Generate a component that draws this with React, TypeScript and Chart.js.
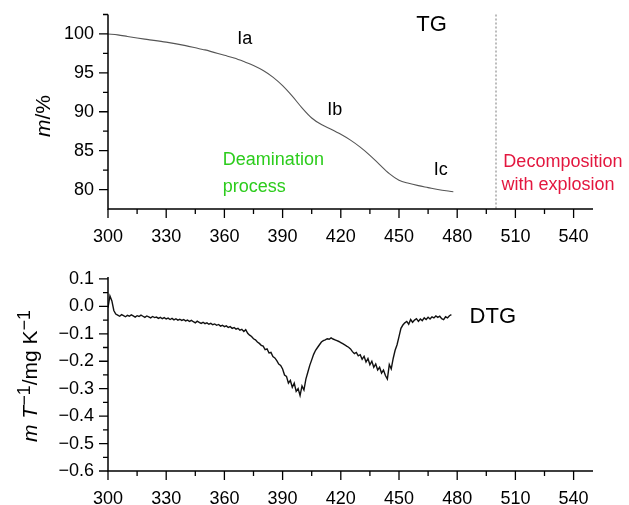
import React, { useEffect, useRef } from "react";
import { Chart, registerables } from "chart.js";

Chart.register(...registerables);

// ---------- data ----------
const tgTemperature = [300, 305, 310, 315, 320, 330, 340, 347, 350, 360, 365, 370, 375, 380, 385, 390, 395, 400, 405, 410, 415, 420, 425, 430, 435, 440, 445, 450, 455, 460, 465, 470, 478];
const tgMass = [100, 99.88, 99.68, 99.48, 99.3, 98.95, 98.5, 98.1, 97.95, 97.25, 96.9, 96.45, 95.95, 95.3, 94.45, 93.35, 92.0, 90.5, 89.2, 88.35, 87.75, 87.1, 86.35, 85.45, 84.4, 83.2, 82.05, 81.2, 80.8, 80.5, 80.25, 80.0, 79.72];

const dtgTemperature = [
  300, 301, 302, 303, 304, 305, 306, 307, 308, 309,
  310, 311, 312, 313, 314, 315, 316, 317, 318, 319,
  320, 321, 322, 323, 324, 325, 326, 327, 328, 329,
  330, 331, 332, 333, 334, 335, 336, 337, 338, 339,
  340, 341, 342, 343, 344, 345, 346, 347, 348, 349,
  350, 351, 352, 353, 354, 355, 356, 357, 358, 359,
  360, 361, 362, 363, 364, 365, 366, 367, 368, 369,
  370, 371, 372, 373, 374, 375, 376, 377, 378, 379,
  380, 381, 382, 383, 384, 385, 386, 387, 388, 389,
  390, 391, 392, 393, 394, 395, 396, 397, 398, 399,
  400, 401, 402, 403, 404, 405, 406, 407, 408, 409,
  410, 411, 412, 413, 414, 415, 416, 417, 418, 419,
  420, 421, 422, 423, 424, 425, 426, 427, 428, 429,
  430, 431, 432, 433, 434, 435, 436, 437, 438, 439,
  440, 441, 442, 443, 444, 445, 446, 447, 448, 449,
  450, 451, 452, 453, 454, 455, 456, 457, 458, 459,
  460, 461, 462, 463, 464, 465, 466, 467, 468, 469,
  470, 471, 472, 473, 474, 475, 476, 477,
];
const dtgValues = [
  -0.005, 0.038, 0.02, -0.015, -0.028, -0.032, -0.036, -0.03, -0.034, -0.038,
  -0.033, -0.036, -0.031, -0.035, -0.039, -0.034, -0.037, -0.032, -0.036, -0.04,
  -0.035, -0.038, -0.042, -0.037, -0.041, -0.039, -0.044, -0.04, -0.045, -0.041,
  -0.046, -0.043, -0.048, -0.044, -0.049, -0.045, -0.05, -0.047, -0.051, -0.048,
  -0.053, -0.05, -0.055, -0.051, -0.056, -0.06, -0.054, -0.058, -0.062, -0.058,
  -0.063, -0.06, -0.065, -0.062, -0.067, -0.064, -0.069, -0.066, -0.072, -0.069,
  -0.074, -0.071, -0.077, -0.074, -0.08, -0.077, -0.083, -0.08, -0.087, -0.084,
  -0.092, -0.085, -0.098, -0.105, -0.11, -0.118, -0.122, -0.13, -0.135, -0.142,
  -0.145, -0.158, -0.155, -0.17, -0.168, -0.183, -0.188, -0.198, -0.21, -0.215,
  -0.228, -0.25, -0.255, -0.28, -0.27, -0.295, -0.28, -0.31, -0.3, -0.325,
  -0.29, -0.305, -0.265, -0.24, -0.215, -0.195, -0.175, -0.16, -0.15, -0.14,
  -0.13, -0.125, -0.122, -0.118, -0.12, -0.115, -0.119, -0.122, -0.125, -0.128,
  -0.132, -0.136, -0.14, -0.145, -0.149, -0.155, -0.165, -0.172, -0.168, -0.18,
  -0.176, -0.193, -0.182, -0.203, -0.19, -0.213, -0.2, -0.222, -0.21, -0.232,
  -0.222, -0.243, -0.232, -0.252, -0.265, -0.212, -0.228, -0.19, -0.16, -0.14,
  -0.11, -0.08, -0.068, -0.06, -0.055, -0.065, -0.048, -0.058, -0.05, -0.045,
  -0.055, -0.046, -0.052, -0.042, -0.048, -0.04, -0.046, -0.038, -0.042, -0.035,
  -0.04, -0.036, -0.045, -0.048, -0.038, -0.042, -0.034, -0.03,
];

const xTickLabels = [300, 330, 360, 390, 420, 450, 480, 510, 540];
const xMinorTicks = [315, 345, 375, 405, 435, 465, 495, 525];
const tgYTicks = [80, 85, 90, 95, 100];
const tgYMinorTicks = [82.5, 87.5, 92.5, 97.5, 102.5];
const dtgYTicks = [0.1, 0.0, -0.1, -0.2, -0.3, -0.4, -0.5, -0.6];
const dtgYMinorTicks = [0.05, -0.05, -0.15, -0.25, -0.35, -0.45, -0.55];
const explosionOnset = 500;

// ---------- styling ----------
const FONT = "'Liberation Sans', Arial, Helvetica, sans-serif";
const W = 629;

type Note = { text: string; x: number; y: number; color: string; size: number; align: CanvasTextAlign };
type Part = { t: string; italic?: boolean; sup?: boolean };

const tgNotes: Note[] = [
  { text: "TG", x: 466.8, y: 101.2, color: "#000", size: 22, align: "center" },
  { text: "Ia", x: 370.5, y: 99.4, color: "#000", size: 18, align: "center" },
  { text: "Ib", x: 416.9, y: 90.25, color: "#000", size: 18, align: "center" },
  { text: "Ic", x: 471.5, y: 82.5, color: "#000", size: 18, align: "center" },
  { text: "Deamination", x: 359.2, y: 83.8, color: "#2ccc1c", size: 18, align: "left" },
  { text: "process", x: 359.2, y: 80.35, color: "#2ccc1c", size: 18, align: "left" },
  { text: "Decomposition", x: 503.8, y: 83.55, color: "#e3173f", size: 18, align: "left" },
  { text: "with explosion", x: 502.8, y: 80.6, color: "#e3173f", size: 18, align: "left" },
];
const dtgNotes: Note[] = [
  { text: "DTG", x: 486.4, y: -0.038, color: "#000", size: 22, align: "left" },
];

const tgTitle: Part[] = [{ t: "m", italic: true }, { t: "/%" }];
const dtgTitle: Part[] = [
  { t: "m", italic: true }, { t: " " }, { t: "T", italic: true }, { t: "\u22121", sup: true },
  { t: "/mg K" }, { t: "\u22121", sup: true },
];

function drawRotatedTitle(ctx: CanvasRenderingContext2D, parts: Part[], baseX: number, centerY: number) {
  const size = 21;
  const supSize = 18;
  const fontOf = (p: Part) => `${p.italic ? "italic " : ""}${p.sup ? supSize : size}px ${FONT}`;
  let total = 0;
  const widths = parts.map((p) => {
    ctx.font = fontOf(p);
    const w = ctx.measureText(p.t).width;
    total += w;
    return w;
  });
  ctx.save();
  ctx.translate(baseX, centerY);
  ctx.rotate(-Math.PI / 2);
  ctx.fillStyle = "#000";
  ctx.textBaseline = "alphabetic";
  ctx.textAlign = "left";
  let pos = -total / 2;
  parts.forEach((p, i) => {
    ctx.font = fontOf(p);
    ctx.fillText(p.t, pos, p.sup ? -7 : 0);
    pos += widths[i];
  });
  ctx.restore();
}

function makeDecor(opts: {
  yMajor: number[];
  yMinor: number[];
  notes: Note[];
  title: Part[];
  titleX: number;
  titleCenter: number;
  vline?: number;
}) {
  return {
    id: "decor",
    afterDraw(chart: any) {
      const { ctx, chartArea: a, scales } = chart;
      const xs = scales.x;
      const ys = scales.y;
      ctx.save();
      if (opts.vline !== undefined) {
        const vx = xs.getPixelForValue(opts.vline);
        ctx.strokeStyle = "#7a7a7a";
        ctx.lineWidth = 1;
        ctx.setLineDash([2, 2]);
        ctx.beginPath();
        ctx.moveTo(vx, a.top);
        ctx.lineTo(vx, a.bottom);
        ctx.stroke();
        ctx.setLineDash([]);
      }
      ctx.strokeStyle = "#000";
      ctx.lineWidth = 1.5;
      ctx.beginPath();
      ctx.moveTo(a.left, a.top);
      ctx.lineTo(a.left, a.bottom);
      ctx.lineTo(a.right, a.bottom);
      ctx.stroke();
      ctx.lineWidth = 1.3;
      ctx.beginPath();
      xTickLabels.forEach((v) => {
        const px = xs.getPixelForValue(v);
        ctx.moveTo(px, a.bottom);
        ctx.lineTo(px, a.bottom + 9);
      });
      xMinorTicks.forEach((v) => {
        const px = xs.getPixelForValue(v);
        ctx.moveTo(px, a.bottom);
        ctx.lineTo(px, a.bottom + 5);
      });
      opts.yMajor.forEach((v) => {
        const py = ys.getPixelForValue(v);
        ctx.moveTo(a.left - 9, py);
        ctx.lineTo(a.left, py);
      });
      opts.yMinor.forEach((v) => {
        const py = ys.getPixelForValue(v);
        ctx.moveTo(a.left - 5, py);
        ctx.lineTo(a.left, py);
      });
      ctx.stroke();
      opts.notes.forEach((n) => {
        ctx.font = `${n.size}px ${FONT}`;
        ctx.fillStyle = n.color;
        ctx.textAlign = n.align;
        ctx.textBaseline = "middle";
        ctx.fillText(n.text, xs.getPixelForValue(n.x), ys.getPixelForValue(n.y));
      });
      drawRotatedTitle(ctx, opts.title, opts.titleX, opts.titleCenter);
      ctx.restore();
    },
  };
}

function fmtDtg(v: number) {
  const r = Math.round(v * 10) / 10;
  if (Math.abs(r) < 1e-9) return "0.0";
  return r < 0 ? "\u2212" + Math.abs(r).toFixed(1) : r.toFixed(1);
}

function buildConfig(kind: "tg" | "dtg"): any {
  const isTg = kind === "tg";
  const points = isTg
    ? tgTemperature.map((t, i) => ({ x: t, y: tgMass[i] }))
    : dtgTemperature.map((t, i) => ({ x: t, y: dtgValues[i] }));
  const xAxisHeight = isTg ? 41 : 34;
  return {
    type: "line",
    data: {
      datasets: [
        {
          data: points,
          borderColor: isTg ? "#555" : "#111",
          borderWidth: isTg ? 1.1 : 1.4,
          pointRadius: 0,
          fill: false,
          tension: isTg ? 0.4 : 0,
          cubicInterpolationMode: isTg ? "monotone" : "default",
        },
      ],
    },
    options: {
      animation: false,
      responsive: false,
      maintainAspectRatio: false,
      devicePixelRatio: 1,
      layout: { padding: { left: 0, right: 36, top: isTg ? 14.5 : 27, bottom: 0 } },
      plugins: { legend: { display: false }, tooltip: { enabled: false }, title: { display: false } },
      scales: {
        x: {
          type: "linear",
          min: 300,
          max: 550,
          grid: { display: false, drawTicks: true, tickLength: 17 },
          border: { display: false },
          afterBuildTicks: (s: any) => {
            s.ticks = xTickLabels.map((v) => ({ value: v }));
          },
          afterFit: (s: any) => {
            s.height = xAxisHeight;
          },
          ticks: {
            autoSkip: false,
            maxRotation: 0,
            padding: 0,
            color: "#000",
            font: { family: FONT, size: 18 },
            callback: (v: any) => String(v),
          },
        },
        y: {
          type: "linear",
          min: isTg ? 77.5 : -0.6,
          max: isTg ? 102.5 : 0.107,
          grid: { display: false, drawTicks: true, tickLength: 14 },
          border: { display: false },
          afterBuildTicks: (s: any) => {
            s.ticks = (isTg ? tgYTicks : dtgYTicks).map((v) => ({ value: v }));
          },
          afterFit: (s: any) => {
            s.width = 108;
          },
          ticks: {
            autoSkip: false,
            padding: 0,
            color: "#000",
            font: { family: FONT, size: 18 },
            callback: (v: any) => (isTg ? String(v) : fmtDtg(Number(v))),
          },
        },
      },
    },
    plugins: [
      makeDecor({
        yMajor: isTg ? tgYTicks : dtgYTicks,
        yMinor: isTg ? tgYMinorTicks : dtgYMinorTicks,
        notes: isTg ? tgNotes : dtgNotes,
        title: isTg ? tgTitle : dtgTitle,
        titleX: isTg ? 50 : 37,
        titleCenter: isTg ? 116 : 126,
        vline: isTg ? explosionOnset : undefined,
      }),
    ],
  };
}

function Panel({ kind, top, height }: { kind: "tg" | "dtg"; top: number; height: number }) {
  const ref = useRef<HTMLCanvasElement | null>(null);
  useEffect(() => {
    if (!ref.current) return;
    const chart = new Chart(ref.current, buildConfig(kind));
    return () => chart.destroy();
  }, [kind]);
  return (
    <canvas
      ref={ref}
      width={W}
      height={height}
      style={{ position: "absolute", left: 0, top, width: W, height, display: "block" }}
    />
  );
}

export default function App() {
  return (
    <div style={{ position: "absolute", left: 0, top: 0, width: W, height: 505, background: "#fff" }}>
      <Panel kind="tg" top={0} height={250} />
      <Panel kind="dtg" top={250} height={255} />
    </div>
  );
}
